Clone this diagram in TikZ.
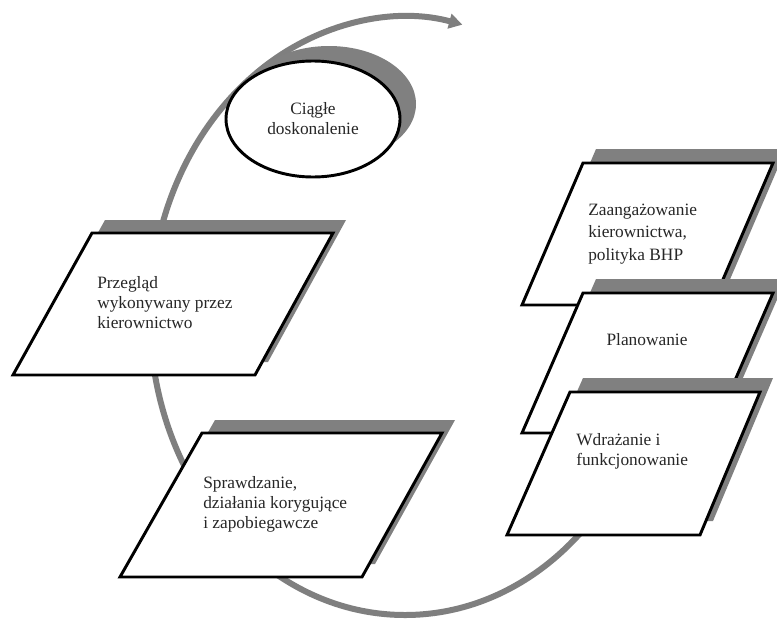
\documentclass[tikz,border=0pt]{standalone}
\usepackage{fontspec}
\setmainfont{Liberation Serif}
\usetikzlibrary{arrows.meta,shapes.geometric}
\definecolor{shadowgray}{HTML}{808080}
\definecolor{arcgray}{HTML}{7F7F7F}
\tikzset{
  shadowfill/.style={fill=shadowgray, draw=none},
  boxframe/.style={fill=white, draw=black, line width=2.2pt, line join=miter},
  txt/.style={font=\fontsize{13}{15}\selectfont, align=left, text=black!85, inner sep=0pt},
  cyclearc/.style={draw=arcgray, line width=4.5pt, -{Triangle[length=10pt,width=11pt]}}
}
\begin{document}
\begin{tikzpicture}[x=0.75pt,y=-0.75pt]
\useasboundingbox (0,0) rectangle (777,621);
\clip (0,0) rectangle (777,621);
\fill[white] (0,0) rectangle (777,621);

% big cycle arc
\coordinate (cc) at (405,316);
\draw[cyclearc] (cc) ++(0:255 and 299) arc[start angle=0, end angle=283, x radius=255, y radius=299];

% ellipse: Ciagle doskonalenie
\fill[shadowgray] (329,104) ellipse [x radius=87, y radius=58];
\node (ciag) [ellipse, boxframe, minimum width=130.5pt, minimum height=87pt, inner sep=0pt,
  font=\fontsize{13}{15}\selectfont, align=center, text=black!85] at (313,119) {Ciągłe\\doskonalenie};

% Przeglad
\fill[shadowfill] (105,220) -- (346,220) -- (268,362) -- (26,362) -- cycle;
\draw[boxframe] (92,233) -- (333,233) -- (255,375) -- (13,375) -- cycle;
\node (przeglad) [txt, anchor=west] at (97,303) {Przegląd\\wykonywany przez\\kierownictwo};

% Sprawdzanie
\fill[shadowfill] (215,420) -- (455,420) -- (375,564) -- (133,564) -- cycle;
\draw[boxframe] (202,433) -- (442,433) -- (362,577) -- (120,577) -- cycle;
\node (sprawdz) [txt, anchor=west] at (203,504) {Sprawdzanie,\\działania korygujące\\i zapobiegawcze};

% Zaangazowanie
\fill[shadowfill] (596,149) -- (786,149) -- (725,291) -- (535,291) -- cycle;
\draw[boxframe] (583,163) -- (773,163) -- (712,305) -- (522,305) -- cycle;
\node (zaang) [txt, anchor=west, font=\fontsize{13}{17}\selectfont] at (588,234) {Zaangażowanie\\kierownictwa,\\polityka BHP};

% Planowanie
\fill[shadowfill] (596,279) -- (786,279) -- (725,419) -- (535,419) -- cycle;
\draw[boxframe] (583,293) -- (773,293) -- (712,433) -- (522,433) -- cycle;
\node (plan) [txt] at (647,340) {Planowanie};

% Wdrazanie
\fill[shadowfill] (583,378) -- (773,378) -- (713,521) -- (520,521) -- cycle;
\draw[boxframe] (570,392) -- (760,392) -- (700,535) -- (507,535) -- cycle;
\node (wdraz) [txt, anchor=west] at (576,451) {Wdrażanie i\\funkcjonowanie};
\end{tikzpicture}
\end{document}
